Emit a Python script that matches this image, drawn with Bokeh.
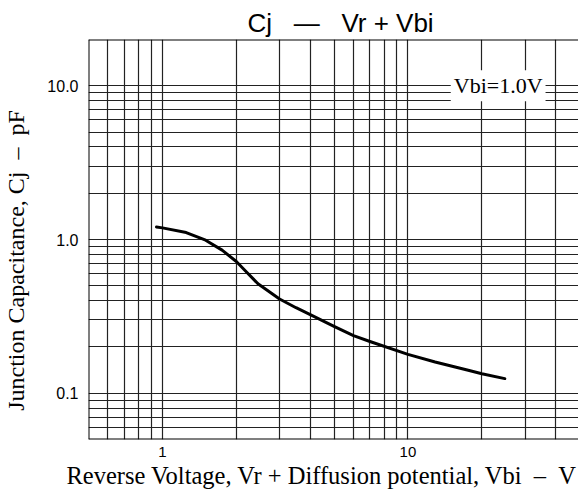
from bokeh.plotting import figure
from bokeh.models import FixedTicker, Label, Title, Span
from bokeh.embed import file_html
from bokeh.resources import INLINE

# Data
vr_vbi = [0.946, 1.0, 1.25, 1.5, 1.75, 2.0, 2.2, 2.45, 3.0, 3.5, 4.0, 5.0, 6.0, 7.0,
          10.0, 12.9, 17.6, 20.0, 24.8]
cj_pf = [1.207, 1.19, 1.109, 0.99, 0.853, 0.719, 0.615, 0.515, 0.41, 0.36, 0.325,
         0.272, 0.237, 0.217, 0.179, 0.1595, 0.141, 0.134, 0.1245]

x_grid = [0.6, 0.7, 0.8, 0.9, 1, 2, 3, 4, 5, 6, 7, 8, 9, 10, 20, 30, 40]
y_grid = [0.06, 0.07, 0.08, 0.09, 0.1, 0.2, 0.3, 0.4, 0.5, 0.6, 0.7, 0.8, 0.9,
          1, 2, 3, 4, 5, 6, 7, 8, 9, 10]
x_ticks = [1, 10]
x_tick_labels = ["1", "10"]
y_ticks = [0.1, 1, 10]
y_tick_labels = ["0.1", "1.0", "10.0"]

NB = "\u00a0"
title_text = "Cj" + NB * 3 + "\u2014" + NB * 3 + "Vr + Vbi"
x_label = "Reverse Voltage, Vr + Diffusion potential, Vbi" + NB * 2 + "\u2013" + NB * 2 + "V"
y_label = "Junction Capacitance, Cj" + NB * 2 + "\u2013" + NB * 2 + "pF" + NB * 7
note_text = "Vbi=1.0V"
note_x = 23.3
note_y = 10

x_lo, x_hi = 0.5, 49.5
y_lo, y_hi = 0.05, 20

SANS = "Liberation Sans"
SERIF = "Liberation Serif"

p = figure(width=578, height=489, x_axis_type="log", y_axis_type="log",
           x_range=(x_lo, x_hi), y_range=(y_lo, y_hi),
           output_backend="svg", toolbar_location=None, title=None,
           min_border_left=83, min_border_right=0, min_border_top=39, min_border_bottom=47)

p.add_layout(Title(text=title_text, align="left", offset=159, text_font=SANS,
                   text_font_size="26px", text_font_style="normal",
                   text_color="black", standoff=4), "above")

p.line(vr_vbi, cj_pf, line_color="black", line_width=3, line_join="round", line_cap="round")

for g in (p.xgrid, p.ygrid):
    g.grid_line_color = "#222222"
    g.grid_line_width = 1.2
    g.grid_line_alpha = 1.0
p.xgrid.ticker = FixedTicker(ticks=x_grid)
p.ygrid.ticker = FixedTicker(ticks=y_grid)

p.xaxis.ticker = FixedTicker(ticks=x_ticks)
p.yaxis.ticker = FixedTicker(ticks=y_ticks)
p.xaxis.major_label_overrides = {t: l for t, l in zip(x_ticks, x_tick_labels)}
p.yaxis.major_label_overrides = {t: l for t, l in zip(y_ticks, y_tick_labels)}

for ax in (p.xaxis, p.yaxis):
    ax.axis_line_color = None
    ax.major_tick_line_color = None
    ax.minor_tick_line_color = None
    ax.major_label_text_font = SANS
    ax.major_label_text_color = "black"
    ax.axis_label_text_font = SERIF
    ax.axis_label_text_font_style = "normal"
    ax.axis_label_text_color = "black"

p.xaxis.major_label_text_font_size = "15px"
p.yaxis.major_label_text_font_size = "16px"
p.xaxis.major_label_standoff = 1
p.yaxis.major_label_standoff = 4

# x-axis title placed as a left-aligned title below the axis
p.add_layout(Title(text=x_label, align="left", offset=-22, text_font=SERIF,
                   text_font_size="24.5px", text_font_style="normal",
                   text_color="black", standoff=1), "below")

p.yaxis.axis_label = y_label
p.yaxis.axis_label_text_font_size = "24px"
p.yaxis.axis_label_standoff = 15

# frame border on left, top and bottom (right edge runs off the picture)
p.outline_line_color = None
for loc, dim in ((x_lo, "height"), (y_lo, "width"), (y_hi, "width")):
    p.add_layout(Span(location=loc, dimension=dim, line_color="black", line_width=2))

p.background_fill_color = "white"
p.border_fill_color = "white"

note = Label(x=note_x, y=note_y, text=note_text, text_font=SERIF, text_font_size="22px",
             text_color="black", text_align="center", text_baseline="middle",
             background_fill_color="white", padding=3)
p.add_layout(note)

open("out.html", "w").write(file_html(p, INLINE))
